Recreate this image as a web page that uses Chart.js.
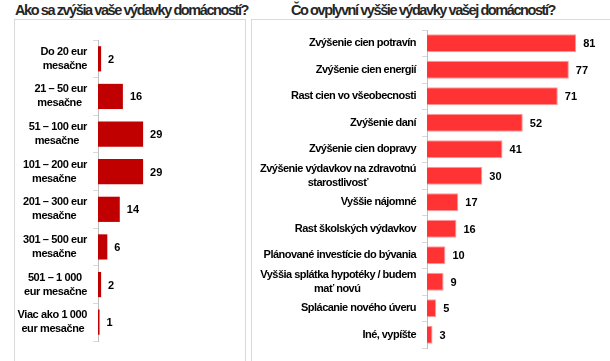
<!DOCTYPE html>
<html>
<head>
<meta charset="utf-8">
<script src="https://cdn.jsdelivr.net/npm/chart.js@4"></script>
<style>
  html, body { margin:0; padding:0; background:#fff; }
  body { width:610px; height:361px; position:relative; overflow:hidden; font-family:"Liberation Sans",sans-serif; }
  .title { position:absolute; top:2px; font-weight:bold; font-size:14.5px; line-height:16px; color:#262626; white-space:nowrap; }
  .box { position:absolute; border:1px solid #d9d9d9; }
  canvas { position:absolute; }
</style>
</head>
<body>
<div class="title" id="t1" style="left:15px;">Ako sa zvýšia vaše výdavky domácností?</div>
<div class="title" id="t2" style="left:291px;">Čo ovplyvní vyššie výdavky vašej domácností?</div>
<div class="box" style="left:14px; top:19px; width:230px; height:360px;"></div>
<div class="box" style="left:251px; top:19px; width:380px; height:360px;"></div>
<canvas id="c1" width="230" height="341" style="left:15px; top:20px;"></canvas>
<canvas id="c2" width="357" height="344" style="left:253px; top:17px;"></canvas>
<script>
const leftCategories = [
  ["Do 20 eur", "mesačne"],
  ["21 – 50 eur", "mesačne"],
  ["51 – 100 eur", "mesačne"],
  ["101 – 200 eur", "mesačne"],
  ["201 – 300 eur", "mesačne"],
  ["301 – 500 eur", "mesačne"],
  ["501 – 1 000", "eur mesačne"],
  ["Viac ako 1 000", "eur mesačne"]
];
const leftValues = [2, 16, 29, 29, 14, 6, 2, 1];

const rightCategories = [
  "Zvýšenie cien potravín",
  "Zvýšenie cien energií",
  "Rast cien vo všeobecnosti",
  "Zvýšenie daní",
  "Zvýšenie cien dopravy",
  ["Zvýšenie výdavkov na zdravotnú", "starostlivosť"],
  "Vyššie nájomné",
  "Rast školských výdavkov",
  "Plánované investície do bývania",
  ["Vyššia splátka hypotéky / budem", "mať novú"],
  "Splácanie nového úveru",
  "Iné, vypíšte"
];
const rightValues = [81, 77, 71, 52, 41, 30, 17, 16, 10, 9, 5, 3];

const FAMILY = '"Liberation Sans", Arial, sans-serif';
const LABEL_SIZE = 11;
const VALUE_SIZE = 11;
const TITLE_SIZE = 14.5;
const mctx = document.createElement('canvas').getContext('2d');
function textW(text, size, ls) {
  mctx.font = 'bold ' + size + 'px ' + FAMILY;
  mctx.letterSpacing = (ls || 0) + 'px';
  const w = mctx.measureText(text).width;
  mctx.letterSpacing = '0px';
  return w;
}
// letter spacing that makes a text as wide as in the reference
function fitSpacing(text, size, target) {
  return +((target - textW(text, size, 0)) / [...text].length).toFixed(3);
}
const leftLS = fitSpacing('101 – 200 eur', LABEL_SIZE, 64);
const rightLS = fitSpacing('Zvýšenie cien potravín', LABEL_SIZE, 107);
const t1 = document.getElementById('t1'), t2 = document.getElementById('t2');
t1.style.letterSpacing = fitSpacing(t1.textContent, TITLE_SIZE, 233) + 'px';
t2.style.letterSpacing = fitSpacing(t2.textContent, TITLE_SIZE, 264) + 'px';

// centre the lines of a multi-line label within its right-aligned block
function centerLines(label, ls) {
  if (!Array.isArray(label)) return label;
  const ws = label.map(l => textW(l, LABEL_SIZE, ls));
  const maxW = Math.max(...ws);
  const sp = textW(' ', LABEL_SIZE, ls);
  return label.map((l, i) => l + ' '.repeat(Math.max(0, Math.round((maxW - ws[i]) / 2 / sp))));
}

const spacingPlugin = {
  id: 'spacing',
  beforeDraw(chart, args, opts) { chart.ctx.letterSpacing = opts.ls + 'px'; },
  beforeDatasetsDraw(chart) { chart.ctx.letterSpacing = '0px'; }
};

const valueLabels = {
  id: 'valueLabels',
  afterDatasetsDraw(chart) {
    const ctx = chart.ctx;
    const meta = chart.getDatasetMeta(0);
    const data = chart.data.datasets[0].data;
    ctx.save();
    ctx.letterSpacing = '0px';
    ctx.font = 'bold ' + VALUE_SIZE + 'px ' + FAMILY;
    ctx.fillStyle = '#000';
    ctx.textAlign = 'left';
    ctx.textBaseline = 'middle';
    meta.data.forEach((bar, i) => {
      ctx.fillText(String(data[i]), bar.x + 7, bar.y + 1);
    });
    ctx.restore();
  }
};

function makeChart(id, cats, vals, opts) {
  return new Chart(document.getElementById(id), {
    type: 'bar',
    data: {
      labels: cats.map(c => centerLines(c, opts.ls)),
      datasets: [{
        data: vals,
        backgroundColor: opts.color,
        borderColor: opts.border,
        borderWidth: opts.borderWidth,
        barPercentage: 0.67,
        categoryPercentage: 1
      }]
    },
    options: {
      indexAxis: 'y',
      responsive: false,
      animation: false,
      devicePixelRatio: 1,
      layout: { padding: opts.padding },
      plugins: { legend: { display: false }, tooltip: { enabled: false }, spacing: { ls: opts.ls } },
      scales: {
        x: { display: false, min: 0, max: opts.max },
        y: {
          grid: { display: true, drawOnChartArea: false, drawTicks: true, tickLength: 5, color: '#d9d9d9', offset: true },
          border: { display: true, color: '#bfbfbf' },
          ticks: { font: { family: FAMILY, size: LABEL_SIZE, weight: 'bold', lineHeight: '14px' }, color: '#000', padding: 6, autoSkip: false },
          afterFit(scale) { scale.width = opts.axisX; }
        }
      }
    },
    plugins: [spacingPlugin, valueLabels]
  });
}

makeChart('c1', leftCategories, leftValues, {
  color: '#C00000', border: '#C00000', borderWidth: 0, ls: leftLS,
  max: 90, axisX: 83, padding: { left: 0, right: 7, top: 12, bottom: 8 }
});
makeChart('c2', rightCategories, rightValues, {
  color: '#FF3333', border: '#FF9C9C', borderWidth: 1, ls: rightLS,
  max: 95, axisX: 174, padding: { left: 0, right: 8, top: 1, bottom: 3 }
});
</script>
</body>
</html>
